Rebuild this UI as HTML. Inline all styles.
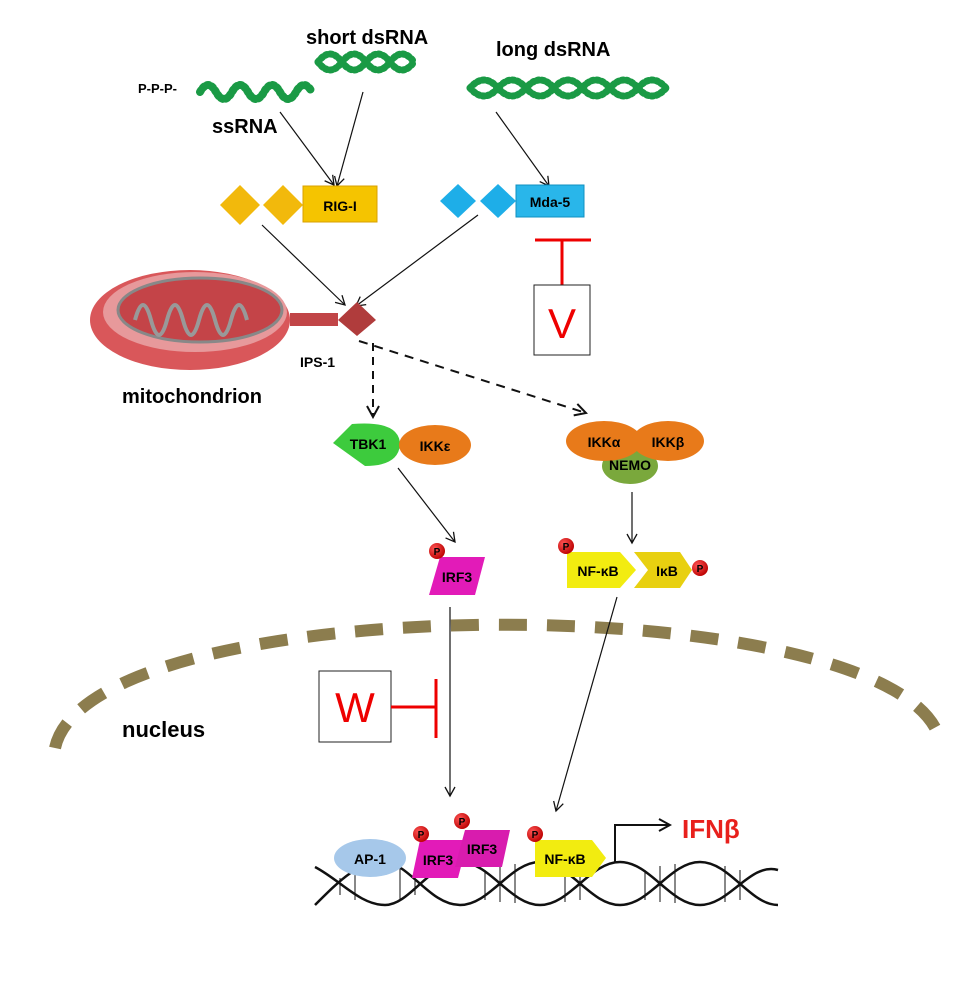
<!DOCTYPE html>
<html><head><meta charset="utf-8"><style>
html,body{margin:0;padding:0;background:#fff}
svg{display:block}
text{font-family:"Liberation Sans",sans-serif}
</style></head><body>
<svg width="975" height="1000" viewBox="0 0 975 1000" xmlns="http://www.w3.org/2000/svg">
<defs>
<marker id="ar" markerWidth="12" markerHeight="12" refX="10" refY="6" orient="auto" markerUnits="userSpaceOnUse">
<path d="M1,1 L10,6 L1,11" fill="none" stroke="#111" stroke-width="1.3"/></marker>
<marker id="ar2" markerWidth="14" markerHeight="14" refX="12" refY="7" orient="auto" markerUnits="userSpaceOnUse">
<path d="M1,1 L12,7 L1,13" fill="none" stroke="#111" stroke-width="2"/></marker>
<radialGradient id="pg" cx="0.35" cy="0.35" r="0.7"><stop offset="0" stop-color="#f55"/><stop offset="1" stop-color="#b00"/></radialGradient>
</defs>

<!-- RNA -->
<text x="138" y="93" font-size="13" font-weight="bold">P-P-P-</text>
<path d="M200,92 q8,-14 16,0 t16,0 t16,0 t16,0 t16,0 t16,0 t16,0" fill="none" stroke="#1a9a45" stroke-width="8" stroke-dasharray="2 3" stroke-linecap="round"/>
<text x="212" y="133" font-size="20" font-weight="bold">ssRNA</text>
<text x="306" y="44" font-size="20" font-weight="bold">short dsRNA</text>
<path d="M318,62 q12,-16 24,0 t24,0 t24,0 t24,0" fill="none" stroke="#1a9a45" stroke-width="7" stroke-dasharray="2 3" stroke-linecap="round"/>
<path d="M318,62 q12,16 24,0 t24,0 t24,0 t24,0" fill="none" stroke="#1a9a45" stroke-width="7" stroke-dasharray="2 3" stroke-linecap="round"/>
<text x="496" y="56" font-size="20" font-weight="bold">long dsRNA</text>
<path d="M470,88 q14,-16 28,0 t28,0 t28,0 t28,0 t28,0 t28,0 t28,0" fill="none" stroke="#1a9a45" stroke-width="7" stroke-dasharray="2 3" stroke-linecap="round"/>
<path d="M470,88 q14,16 28,0 t28,0 t28,0 t28,0 t28,0 t28,0 t28,0" fill="none" stroke="#1a9a45" stroke-width="7" stroke-dasharray="2 3" stroke-linecap="round"/>

<!-- arrows to RIG/Mda -->
<line x1="280" y1="112" x2="334" y2="185" stroke="#111" stroke-width="1.2" marker-end="url(#ar)"/>
<line x1="363" y1="92" x2="337" y2="186" stroke="#111" stroke-width="1.2" marker-end="url(#ar)"/>
<line x1="496" y1="112" x2="549" y2="186" stroke="#111" stroke-width="1.2" marker-end="url(#ar)"/>

<!-- RIG-I -->
<polygon points="220,205 240,185 260,205 240,225" fill="#f2b90c"/>
<polygon points="263,205 283,185 303,205 283,225" fill="#f2b90c"/>
<rect x="303" y="186" width="74" height="36" fill="#f5c400" stroke="#d9a000"/>
<text x="340" y="211" font-size="14" font-weight="bold" text-anchor="middle">RIG-I</text>
<!-- Mda-5 -->
<polygon points="440,201 458,184 476,201 458,218" fill="#1eaee8"/>
<polygon points="480,201 498,184 516,201 498,218" fill="#1eaee8"/>
<rect x="516" y="185" width="68" height="32" fill="#29b6ea" stroke="#1090c0"/>
<text x="550" y="207" font-size="14" font-weight="bold" text-anchor="middle">Mda-5</text>

<line x1="262" y1="225" x2="345" y2="305" stroke="#111" stroke-width="1.2" marker-end="url(#ar)"/>
<line x1="478" y1="215" x2="356" y2="306" stroke="#111" stroke-width="1.2" marker-end="url(#ar)"/>

<!-- V -->
<line x1="535" y1="240" x2="591" y2="240" stroke="#e00" stroke-width="3"/>
<line x1="562" y1="240" x2="562" y2="285" stroke="#e00" stroke-width="3"/>
<rect x="534" y="285" width="56" height="70" fill="#fff" stroke="#222" stroke-width="1"/>
<text x="562" y="338" font-size="42" fill="#e00" text-anchor="middle">V</text>

<!-- mitochondrion -->
<ellipse cx="190" cy="320" rx="100" ry="50" fill="#d9575a"/>
<ellipse cx="195" cy="312" rx="92" ry="40" fill="#e7999b"/>
<ellipse cx="200" cy="310" rx="82" ry="32" fill="#c44448" stroke="#888" stroke-width="3"/>
<path d="M135,320 q8,-30 16,0 t16,0 t16,0 t16,0 t16,0 t16,0 t16,0" fill="none" stroke="#999" stroke-width="4"/>
<rect x="290" y="313" width="48" height="13" fill="#c14547"/>
<polygon points="338,320 357,302 376,320 357,336" fill="#b03c3c"/>
<text x="300" y="367" font-size="14" font-weight="bold">IPS-1</text>
<text x="122" y="403" font-size="20" font-weight="bold">mitochondrion</text>

<!-- dashed -->
<line x1="373" y1="343" x2="373" y2="417" stroke="#111" stroke-width="2" stroke-dasharray="8 6" marker-end="url(#ar2)"/>
<line x1="359" y1="341" x2="586" y2="413" stroke="#111" stroke-width="2" stroke-dasharray="9 7" marker-end="url(#ar2)"/>

<!-- TBK1 IKKe -->
<path d="M333,443 L352,424 Q400,420 400,445 Q398,466 365,466 Z" fill="#3dcb3d"/>
<text x="368" y="449" font-size="14" font-weight="bold" text-anchor="middle">TBK1</text>
<ellipse cx="435" cy="445" rx="36" ry="20" fill="#e87a1a"/>
<text x="435" y="451" font-size="14" font-weight="bold" text-anchor="middle">IKKε</text>
<!-- IKK complex -->
<ellipse cx="630" cy="466" rx="28" ry="18" fill="#7aa83c"/>
<ellipse cx="604" cy="441" rx="38" ry="20" fill="#e87a1a"/>
<ellipse cx="668" cy="441" rx="36" ry="20" fill="#e87a1a"/>
<text x="604" y="447" font-size="14" font-weight="bold" text-anchor="middle">IKKα</text>
<text x="668" y="447" font-size="14" font-weight="bold" text-anchor="middle">IKKβ</text>
<text x="630" y="470" font-size="14" font-weight="bold" text-anchor="middle">NEMO</text>

<line x1="398" y1="468" x2="455" y2="542" stroke="#111" stroke-width="1.2" marker-end="url(#ar)"/>
<line x1="632" y1="492" x2="632" y2="543" stroke="#111" stroke-width="1.2" marker-end="url(#ar)"/>

<!-- IRF3 -->
<polygon points="440,557 485,557 475,595 429,595" fill="#e21bb8"/>
<text x="457" y="582" font-size="14" font-weight="bold" text-anchor="middle">IRF3</text>
<circle cx="437" cy="551" r="8" fill="url(#pg)"/><text x="437" y="555" font-size="10" font-weight="bold" text-anchor="middle">P</text>
<!-- NFkB IkB -->
<polygon points="567,552 620,552 636,570 620,588 567,588" fill="#f2ec10"/>
<text x="598" y="576" font-size="14" font-weight="bold" text-anchor="middle">NF-κB</text>
<polygon points="634,552 680,552 692,570 680,588 634,588 648,570" fill="#e8d010"/>
<text x="667" y="576" font-size="14" font-weight="bold" text-anchor="middle">IκB</text>
<circle cx="566" cy="546" r="8" fill="url(#pg)"/><text x="566" y="550" font-size="10" font-weight="bold" text-anchor="middle">P</text>
<circle cx="700" cy="568" r="8" fill="url(#pg)"/><text x="700" y="572" font-size="10" font-weight="bold" text-anchor="middle">P</text>

<!-- nucleus -->
<path d="M55,748 C90,585 900,585 940,740" fill="none" stroke="#8c7d4e" stroke-width="12" stroke-dasharray="28 20"/>
<text x="122" y="737" font-size="22" font-weight="bold">nucleus</text>

<!-- W -->
<rect x="319" y="671" width="72" height="71" fill="#fff" stroke="#222" stroke-width="1"/>
<text x="355" y="722" font-size="42" fill="#e00" text-anchor="middle">W</text>
<line x1="391" y1="707" x2="436" y2="707" stroke="#e00" stroke-width="3"/>
<line x1="436" y1="679" x2="436" y2="738" stroke="#e00" stroke-width="3"/>

<line x1="450" y1="607" x2="450" y2="796" stroke="#111" stroke-width="1.2" marker-end="url(#ar)"/>
<line x1="617" y1="597" x2="556" y2="811" stroke="#111" stroke-width="1.2" marker-end="url(#ar)"/>

<!-- DNA -->
<path d="M315,905 C340,880 360,860 385,862 S430,905 460,905 S510,862 540,862 S590,905 620,905 S670,862 700,862 S750,905 778,905" fill="none" stroke="#111" stroke-width="2.5"/>
<path d="M315,867 C340,880 360,905 385,905 S430,862 460,862 S510,905 540,905 S590,862 620,862 S670,905 700,905 S750,862 778,870" fill="none" stroke="#111" stroke-width="2.5"/>
<g stroke="#111" stroke-width="1">
<line x1="340" y1="878" x2="340" y2="895"/><line x1="355" y1="870" x2="355" y2="900"/><line x1="400" y1="868" x2="400" y2="900"/><line x1="415" y1="875" x2="415" y2="895"/><line x1="485" y1="870" x2="485" y2="900"/><line x1="500" y1="866" x2="500" y2="902"/><line x1="515" y1="864" x2="515" y2="903"/><line x1="565" y1="866" x2="565" y2="902"/><line x1="580" y1="870" x2="580" y2="900"/><line x1="645" y1="870" x2="645" y2="900"/><line x1="660" y1="866" x2="660" y2="902"/><line x1="675" y1="864" x2="675" y2="903"/><line x1="725" y1="866" x2="725" y2="902"/><line x1="740" y1="870" x2="740" y2="900"/>
</g>
<ellipse cx="370" cy="858" rx="36" ry="19" fill="#a6c8ea"/>
<text x="370" y="864" font-size="14" font-weight="bold" text-anchor="middle">AP-1</text>
<polygon points="420,840 468,840 458,878 412,878" fill="#e21bb8"/>
<text x="438" y="865" font-size="14" font-weight="bold" text-anchor="middle">IRF3</text>
<polygon points="465,830 510,830 502,867 455,867" fill="#d81cae"/>
<text x="482" y="854" font-size="14" font-weight="bold" text-anchor="middle">IRF3</text>
<circle cx="421" cy="834" r="8" fill="url(#pg)"/><text x="421" y="838" font-size="10" font-weight="bold" text-anchor="middle">P</text>
<circle cx="462" cy="821" r="8" fill="url(#pg)"/><text x="462" y="825" font-size="10" font-weight="bold" text-anchor="middle">P</text>
<polygon points="535,840 592,840 606,858 592,877 535,877" fill="#f2ec10"/>
<text x="565" y="864" font-size="14" font-weight="bold" text-anchor="middle">NF-κB</text>
<circle cx="535" cy="834" r="8" fill="url(#pg)"/><text x="535" y="838" font-size="10" font-weight="bold" text-anchor="middle">P</text>
<polyline points="615,862 615,825 670,825" fill="none" stroke="#111" stroke-width="2" marker-end="url(#ar2)"/>
<text x="682" y="838" font-size="26" font-weight="bold" fill="#e8201c">IFNβ</text>
</svg>
</body></html>
